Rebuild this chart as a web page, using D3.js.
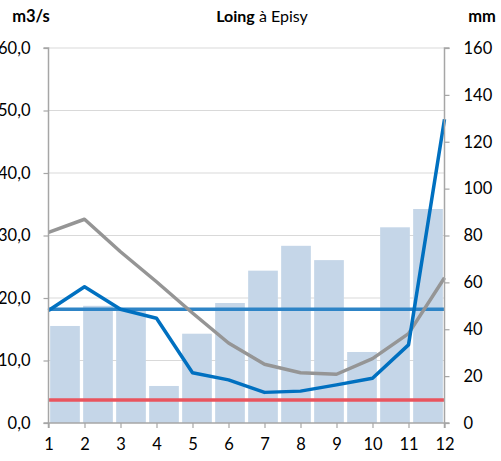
<!DOCTYPE html>
<html><head><meta charset="utf-8">
<script src="https://cdn.jsdelivr.net/npm/d3@7"></script>
<style>
html,body{margin:0;padding:0;background:#fff;}
svg{display:block;font-family:"Lato","Open Sans",sans-serif;}
</style></head>
<body><svg id="c" width="501" height="461"></svg>
<script>
const months = ["1","2","3","4","5","6","7","8","9","10","11","12"];
const precipMm = [41.4, 50, 48.6, 15.8, 38.1, 51.2, 65, 75.6, 69.5, 30.3, 83.5, 91.3];
const meanFlow = [30.5, 32.6, 27.4, 22.6, 17.6, 12.8, 9.4, 8.05, 7.8, 10.3, 14.3, 23.25];
const yearFlow = [18.0, 21.8, 18.2, 16.75, 8.05, 6.9, 4.9, 5.1, 6.1, 7.15, 12.5, 48.6];
const moduleFlow = 18.2;
const lowFlow = 3.7;
const leftTicks = [0, 10, 20, 30, 40, 50, 60];
const rightTicks = [0, 20, 40, 60, 80, 100, 120, 140, 160];

const svg = d3.select("#c");
const L = 48.5, R = 444.5, T = 48, B = 423;

const xPoint = d3.scalePoint().domain(months).range([L, R]);
const xBand = d3.scaleBand().domain(months).range([L, R]).paddingInner(0.1).paddingOuter(0.05);
const yL = d3.scaleLinear().domain([0, 60]).range([B, T]);
const yR = d3.scaleLinear().domain([0, 160]).range([B, T]);
const fmt = d => d.toFixed(1).replace(".", ",");

// gridlines
svg.append("g").selectAll("line").data(leftTicks.slice(1)).join("line")
  .attr("x1", L).attr("x2", R).attr("y1", d => yL(d)).attr("y2", d => yL(d))
  .attr("stroke", "#D9D9D9").attr("stroke-width", 1);

// bars
svg.append("g").selectAll("rect").data(precipMm).join("rect")
  .attr("x", (d, i) => xBand(months[i])).attr("width", xBand.bandwidth())
  .attr("y", d => yR(d)).attr("height", d => B - yR(d))
  .attr("fill", "#C5D6E8");

// horizontal reference lines
svg.append("line").attr("x1", L).attr("x2", R).attr("y1", yL(lowFlow)).attr("y2", yL(lowFlow))
  .attr("stroke", "#E9545E").attr("stroke-width", 3.5);
svg.append("line").attr("x1", L).attr("x2", R).attr("y1", yL(moduleFlow)).attr("y2", yL(moduleFlow))
  .attr("stroke", "#2E84C6").attr("stroke-width", 3.5);

const line = d3.line().x((d, i) => xPoint(months[i])).y(d => yL(d));
svg.append("path").datum(meanFlow).attr("d", line).attr("fill", "none")
  .attr("stroke", "#959595").attr("stroke-width", 3.5).attr("stroke-linejoin", "round");
svg.append("path").datum(yearFlow).attr("d", line).attr("fill", "none")
  .attr("stroke", "#0070C0").attr("stroke-width", 3.5).attr("stroke-linejoin", "round");

// axes
const axisColor = "#A6A6A6";
const gl = svg.append("g").attr("transform", `translate(${L},0)`)
  .call(d3.axisLeft(yL).tickValues(leftTicks).tickFormat(fmt).tickSize(5).tickPadding(13));
const gr = svg.append("g").attr("transform", `translate(${R},0)`)
  .call(d3.axisRight(yR).tickValues(rightTicks).tickFormat(d3.format("d")).tickSize(5).tickPadding(14));
const gb = svg.append("g").attr("transform", `translate(0,${B})`)
  .call(d3.axisBottom(xPoint).tickSize(5).tickPadding(10));
[gl, gr, gb].forEach(g => {
  g.selectAll(".domain").attr("stroke", axisColor).attr("stroke-width", 1.5);
  g.selectAll(".tick line").attr("stroke", axisColor).attr("stroke-width", 1.2);
  g.selectAll("text").attr("fill", "#000").attr("font-size", 16.5)
    .attr("font-family", "Lato, 'Open Sans', sans-serif");
});
gl.select(".domain").attr("d", `M-5,${T}H0V${B}H-5`);
gr.select(".domain").attr("d", `M5,${T}H0V${B}H5`);
gb.select(".domain").attr("d", `M${L},5V0H${R}V5`);

// titles
svg.append("text").attr("x", 31).attr("y", 22).attr("text-anchor", "middle")
  .attr("font-size", 16.5).attr("font-weight", "bold").text("m3/s");
svg.append("text").attr("x", 482).attr("y", 22).attr("text-anchor", "middle")
  .attr("font-size", 16.5).attr("font-weight", "bold").text("mm");
const t = svg.append("text").attr("x", 262).attr("y", 22).attr("text-anchor", "middle").attr("font-size", 16);
t.append("tspan").attr("font-weight", "bold").text("Loing");
t.append("tspan").text(" à Episy");
</script></body></html>
